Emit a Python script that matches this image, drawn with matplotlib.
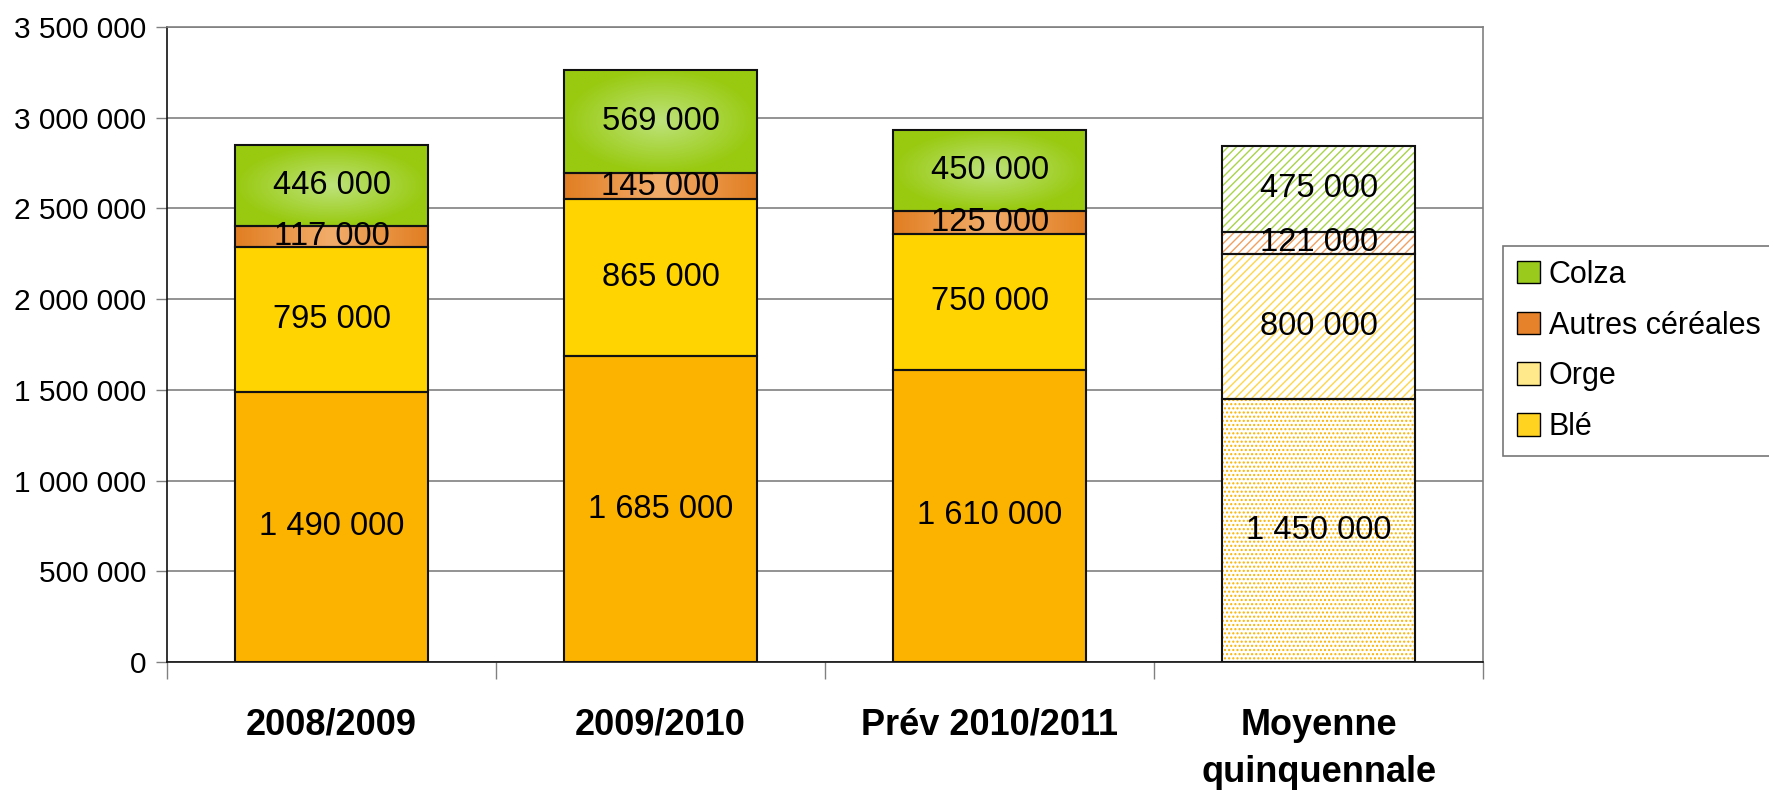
import numpy as np
import matplotlib.pyplot as plt
from matplotlib.patches import Patch
from matplotlib.colors import LinearSegmentedColormap

plt.rcParams['font.family'] = ['Liberation Sans', 'DejaVu Sans']
plt.rcParams['hatch.linewidth'] = 1.0

categories = ['2008/2009', '2009/2010', 'Prév 2010/2011', 'Moyenne\nquinquennale']
ble = [1490000, 1685000, 1610000, 1450000]
orge = [795000, 865000, 750000, 800000]
autres = [117000, 145000, 125000, 121000]
colza = [446000, 569000, 450000, 475000]
yticks = [0, 500000, 1000000, 1500000, 2000000, 2500000, 3000000, 3500000]

# last bar (5-year average) is drawn hatched
n_solid = 3


def fmt(v):
    return f'{v:,}'.replace(',', ' ')


fig = plt.figure(figsize=(17.69, 7.95), dpi=100)
ax = fig.add_axes([0.0944, 0.1673, 0.744, 0.7987])
x = np.arange(len(categories))
width = 0.585

series = [
    (ble, '#FBB300', '#FBB300', '....'),
    (orge, '#FFD400', '#FFD64A', '////'),
    (autres, '#E5822A', '#F0A060', '////'),
    (colza, '#9ACB1C', '#A8D448', '////'),
]

bottom = np.zeros(len(categories))
bars_by_series = []
for vals, col, hcol, hatch in series:
    vals = np.array(vals)
    # solid bars
    b = ax.bar(x[:n_solid], vals[:n_solid], width, bottom=bottom[:n_solid],
               color=col, edgecolor='none', zorder=2)
    # hatched bar
    ax.bar(x[n_solid:], vals[n_solid:], width, bottom=bottom[n_solid:],
           color='white', edgecolor=hcol, hatch=hatch, linewidth=0, zorder=2)
    bars_by_series.append(b)
    for xi, v, bt in zip(x, vals, bottom):
        ax.text(xi, bt + v / 2, fmt(int(v)), ha='center', va='center',
                fontsize=23.5, zorder=5)
    bottom = bottom + vals

# gradient shading on colza (radial) and autres céréales (horizontal)
yy, xx = np.mgrid[-1:1:100j, -1:1:100j]
radial = np.clip(np.sqrt(xx ** 2 + yy ** 2), 0, 1)
horiz = np.abs(xx)
cm_colza = LinearSegmentedColormap.from_list('colza', ['#BDE27A', '#99CA10'])
cm_autres = LinearSegmentedColormap.from_list('autres', ['#F2AC6A', '#E17E22'])
for bars, grad, cmap in [(bars_by_series[3], radial, cm_colza),
                         (bars_by_series[2], horiz, cm_autres)]:
    for p in bars:
        ext = (p.get_x(), p.get_x() + p.get_width(), p.get_y(), p.get_y() + p.get_height())
        im = ax.imshow(grad, cmap=cmap, extent=ext, aspect='auto', origin='lower',
                       interpolation='bicubic', zorder=2.5)
        im.set_clip_path(p)

# outlines
bottom = np.zeros(len(categories))
for vals, col, hcol, hatch in series:
    ax.bar(x, vals, width, bottom=bottom, fill=False, edgecolor='#111111',
           linewidth=1.5, zorder=3)
    bottom = bottom + np.array(vals)

ax.set_xlim(-0.5, len(categories) - 0.5)
ax.set_ylim(0, 3500000)
ax.set_yticks(yticks)
ax.set_yticklabels([fmt(v) for v in yticks], fontsize=21.5)
ax.yaxis.grid(True, color='#808080', linewidth=1.2, zorder=0)
ax.set_axisbelow(True)

ax.set_xticks(np.arange(len(categories) + 1) - 0.5)
ax.set_xticklabels([])
ax.set_xticks(x, minor=True)
ax.set_xticklabels(categories, minor=True, fontsize=26, fontweight='bold',
                   linespacing=1.45)
ax.tick_params(axis='x', which='major', length=12, width=1, color='#808080')
ax.tick_params(axis='x', which='minor', length=0, pad=33)
ax.tick_params(axis='y', length=8, width=1, color='#808080', pad=7)

for s in ['left', 'bottom']:
    ax.spines[s].set_color('#111111')
    ax.spines[s].set_linewidth(1.2)
for s in ['top', 'right']:
    ax.spines[s].set_color('#808080')
    ax.spines[s].set_linewidth(1.2)

handles = [
    Patch(facecolor='#9ACB1C', edgecolor='black', label='Colza'),
    Patch(facecolor='#E5822A', edgecolor='black', label='Autres céréales'),
    Patch(facecolor='#FFE98A', edgecolor='black', label='Orge'),
    Patch(facecolor='#FFD320', edgecolor='black', label='Blé'),
]
leg = fig.legend(handles=handles, loc='upper left', bbox_to_anchor=(0.8496, 0.6906),
                 fontsize=22, frameon=True, fancybox=False, handlelength=0.75,
                 handleheight=0.75, handletextpad=0.3, labelspacing=0.68,
                 borderpad=0.45, borderaxespad=0)
leg.get_frame().set_edgecolor('#555555')
leg.get_frame().set_linewidth(1.2)

fig.savefig('out.png', dpi=100)
